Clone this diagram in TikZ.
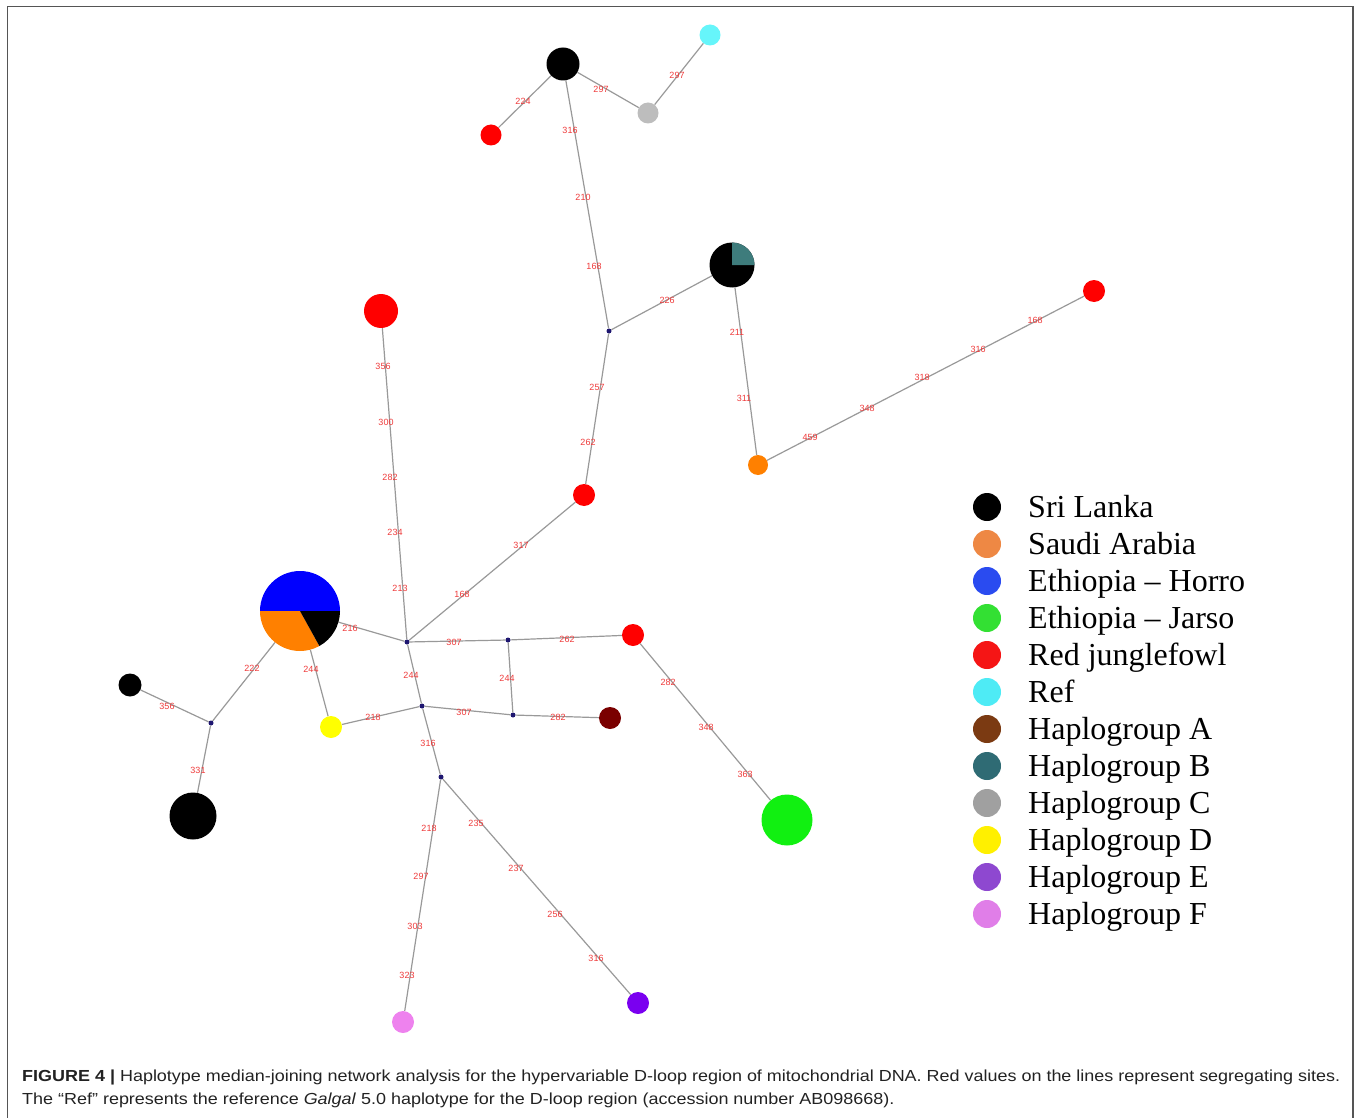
\documentclass[tikz,border=0pt]{standalone}
\usepackage{fontspec}
\setmainfont{Liberation Serif}
\newfontfamily\capfont{Liberation Sans}
\usepackage{graphicx}
\definecolor{edgec}{HTML}{999999}
\definecolor{labc}{HTML}{EE3A3A}
\definecolor{medc}{HTML}{1E1670}
\definecolor{nred}{HTML}{FF0000}
\definecolor{ngrey}{HTML}{BDBDBD}
\definecolor{ncyan}{HTML}{66F5FA}
\definecolor{norange}{HTML}{FF8000}
\definecolor{nblue}{HTML}{0000FF}
\definecolor{ngreen}{HTML}{11F011}
\definecolor{nteal}{HTML}{3E7C7C}
\definecolor{nyellow}{HTML}{FFFF00}
\definecolor{nmaroon}{HTML}{7A0000}
\definecolor{npink}{HTML}{EE82EE}
\definecolor{npurple}{HTML}{7A00F0}
\definecolor{lorange}{HTML}{EE8844}
\definecolor{lblue}{HTML}{2A4BF0}
\definecolor{lgreen}{HTML}{33E033}
\definecolor{lred}{HTML}{F51515}
\definecolor{lcyan}{HTML}{4EEBF5}
\definecolor{lbrown}{HTML}{7B3A12}
\definecolor{lteal}{HTML}{2F6B74}
\definecolor{lgrey}{HTML}{A0A0A0}
\definecolor{lyellow}{HTML}{FFF000}
\definecolor{lpurple}{HTML}{8E48D0}
\definecolor{lpink}{HTML}{E07EE8}
\definecolor{framec}{HTML}{555555}
\definecolor{capc}{HTML}{222222}
\begin{document}
\begin{tikzpicture}[x=1pt,y=-1pt,
  hap/.style={circle,inner sep=0pt,minimum size=#1},
  med/.style={circle,inner sep=0pt,minimum size=5pt,fill=medc},
  link/.style={draw=edgec,line width=1.2pt},
  lab/.style={text=labc,inner sep=0pt,font=\capfont\fontsize{9}{9}\selectfont},
  legdot/.style={circle,inner sep=0pt,minimum size=28pt},
  legtext/.style={anchor=base west,inner sep=0pt,font=\fontsize{32}{32}\selectfont}]
\useasboundingbox (0,0) rectangle (1360,1118);
% frame
\draw[framec,line width=1.5pt] (7.5,1118) -- (7.5,6.5) -- (1353,6.5) -- (1353,1118);
% haplotype nodes
\node[hap=33pt] (A) at (563,64) {};
\node[hap=21pt] (B) at (491,135) {};
\node[hap=21pt] (C) at (648,113) {};
\node[hap=21pt] (D) at (710,35) {};
\node[med] (E) at (609,331) {};
\node[hap=45pt] (F) at (732,265) {};
\node[hap=22pt] (G) at (1094,291) {};
\node[hap=20pt] (H) at (758,465) {};
\node[hap=34pt] (I) at (381,311) {};
\node[hap=22pt] (J) at (584,495) {};
\node[med] (K) at (407,642) {};
\node[hap=80pt] (L) at (300,611) {};
\node[hap=23pt] (M) at (130,685) {};
\node[med] (N) at (211,723) {};
\node[hap=47pt] (O) at (193,816) {};
\node[hap=22pt] (P) at (331,727) {};
\node[med] (Q) at (422,706) {};
\node[med] (R) at (508,640) {};
\node[hap=22pt] (S) at (633,635) {};
\node[med] (T) at (513,715) {};
\node[hap=22pt] (U) at (610,718) {};
\node[med] (V) at (441,777) {};
\node[hap=51pt] (W) at (787,820) {};
\node[hap=22pt] (X) at (403,1022) {};
\node[hap=22pt] (Y) at (638,1003) {};
% connectors
\foreach \a/\b in {A/B,A/C,C/D,A/E,E/F,F/H,H/G,E/J,J/K,I/K,L/K,L/N,L/P,M/N,N/O,K/R,R/S,K/Q,R/T,Q/T,T/U,P/Q,Q/V,S/W,V/X,V/Y}
  \draw[link] (\a) -- (\b);
% fills of the haplotype circles
\fill[black] (A) circle[radius=16.5pt];
\fill[nred] (B) circle[radius=10.5pt];
\fill[ngrey] (C) circle[radius=10.5pt];
\fill[ncyan] (D) circle[radius=10.5pt];
\fill[black] (F) circle[radius=22.5pt];
\fill[nteal] (F.center) -- ++(0:22.5pt) arc[start angle=0,end angle=90,radius=22.5pt] -- cycle;
\fill[nred] (G) circle[radius=11pt];
\fill[norange] (H) circle[radius=10pt];
\fill[nred] (I) circle[radius=17pt];
\fill[nred] (J) circle[radius=11pt];
\fill[nblue] (L.center) -- ++(0:40pt) arc[start angle=0,end angle=180,radius=40pt] -- cycle;
\fill[norange] (L.center) -- ++(180:40pt) arc[start angle=180,end angle=299,radius=40pt] -- cycle;
\fill[black] (L.center) -- ++(299:40pt) arc[start angle=299,end angle=360,radius=40pt] -- cycle;
\fill[black] (M) circle[radius=11.5pt];
\fill[black] (O) circle[radius=23.5pt];
\fill[nyellow] (P) circle[radius=11pt];
\fill[nred] (S) circle[radius=11pt];
\fill[nmaroon] (U) circle[radius=11pt];
\fill[ngreen] (W) circle[radius=25.5pt];
\fill[npink] (X) circle[radius=11pt];
\fill[npurple] (Y) circle[radius=11pt];
% segregating-site labels
\foreach \x/\y/\t [count=\i] in {523/101/224, 601/89/297, 677/75/297, 570/130/316, 583/197/210, 594/266/168, 667/300/226, 737/332/211, 744/398/311, 810/437/459, 867/408/348, 922/377/318, 978/349/316, 1035/320/168, 597/387/257, 588/442/262, 521/545/317, 462/594/168, 383/366/356, 386/422/300, 390/477/282, 395/532/234, 400/588/213, 350/628/216, 252/668/222, 311/669/244, 167/706/356, 198/770/331, 454/642/307, 567/639/262, 411/675/244, 507/678/244, 464/712/307, 558/717/282, 373/717/218, 428/743/316, 668/682/282, 706/727/348, 745/774/363, 429/828/218, 421/876/297, 415/926/303, 407/975/323, 476/823/235, 516/868/237, 555/914/256, 596/958/316}
  \node[lab] (site\i) at (\x,\y) {\t};
% legend
\foreach \c/\t [count=\i from 0] in {black/Sri Lanka, lorange/Saudi Arabia, lblue/Ethiopia -- Horro, lgreen/Ethiopia -- Jarso, lred/Red junglefowl, lcyan/Ref, lbrown/Haplogroup A, lteal/Haplogroup B, lgrey/Haplogroup C, lyellow/Haplogroup D, lpurple/Haplogroup E, lpink/Haplogroup F}{
  \node[legdot,fill=\c] (leg\i) at (987,{507+37*\i}) {};
  \node[legtext] (legt\i) at (1028,{517+37*\i}) {\t};
}
% caption
\node[anchor=base west,inner sep=0pt,text=capc] (cap) at (22,1081) {\resizebox{1318pt}{\height}{\capfont\fontsize{16}{23}\selectfont
  \begin{tabular}[t]{@{}l@{}}
  \textbf{FIGURE 4 |} Haplotype median-joining network analysis for the hypervariable D-loop region of mitochondrial DNA. Red values on the lines represent segregating sites.\\
  The “Ref” represents the reference \textit{Galgal} 5.0 haplotype for the D-loop region (accession number AB098668).
  \end{tabular}}};
\end{tikzpicture}
\end{document}
